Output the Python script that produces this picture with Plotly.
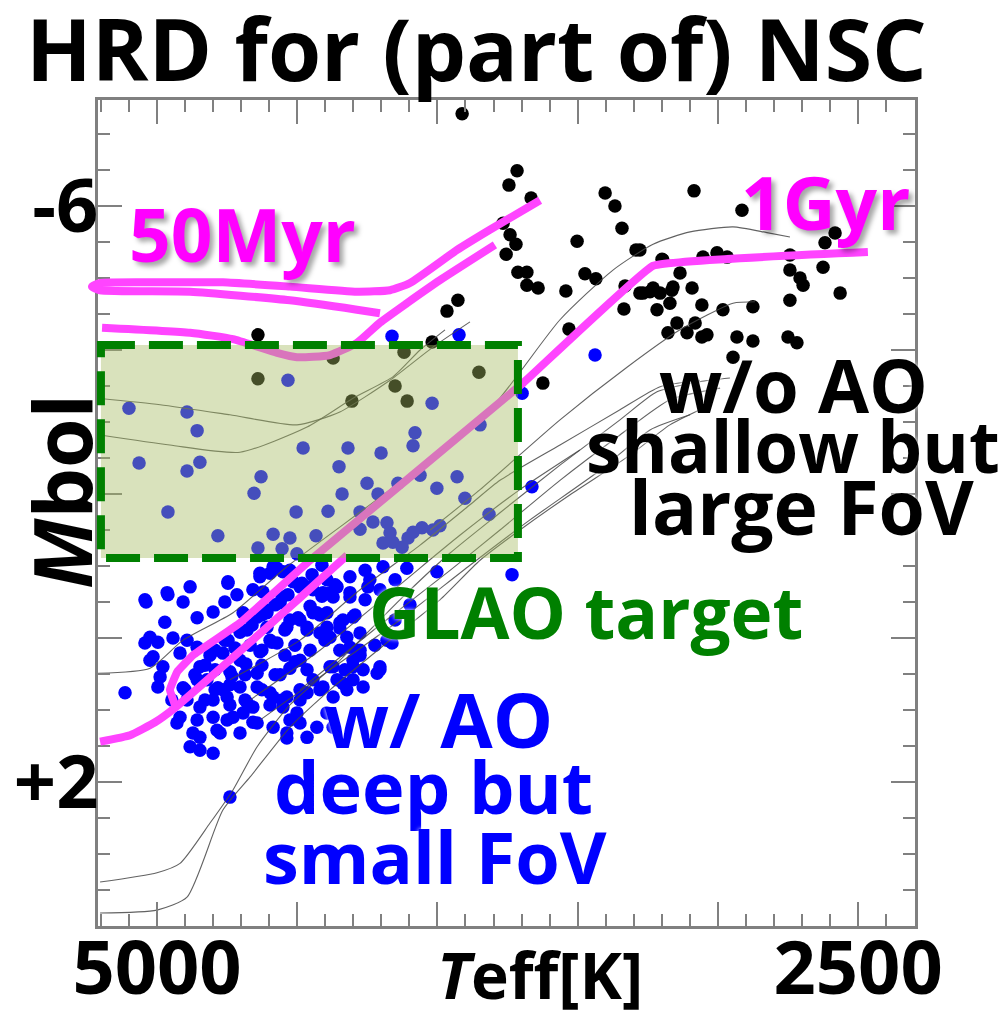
import plotly.graph_objects as go

# ---------------- data (Teff [K], Mbol) ----------------
black_teff = [3912,3716,3745,3666,3766,3741,3720,3755,3713,3681,3681,3641,3927,3966,4640,4019,4372,4119,4151,4108,
              4305,3852,4640,3402,3367,3342,3502,3292,3474,3435,3542,3531,3335,3331,3278,3231,3199,3164,3171,3135,
              3217,3146,3110,3085,2914,3053,3003,2967,2743,2582,2618,2625,2743,2707,2696,2564,2743,2875,2982,3057,
              3092,3160,3206,3242,3267,3196,3081,3057,2932,2875,2750,2718,3624,2946,3039,3178,3278]
black_mbol = [-7.28,-6.49,-6.29,-6.11,-5.76,-5.60,-5.47,-5.33,-5.08,-5.08,-4.90,-4.86,-4.69,-4.54,-4.21,-4.11,-3.89,-3.97,-3.50,-3.29,
              -3.29,-3.69,-3.60,-6.18,-6.00,-5.69,-5.51,-5.39,-5.06,-4.99,-4.82,-4.29,-4.57,-4.89,-4.79,-4.86,-5.26,-4.83,-4.65,-5.07,
              -4.56,-4.375,-4.24,-6.21,-5.94,-5.29,-5.35,-5.29,-5.32,-5.625,-5.49,-5.15,-5.11,-5.00,-4.90,-4.79,-4.69,-4.60,-4.56,-4.625,
              -4.86,-4.875,-4.79,-4.81,-4.79,-5.25,-4.375,-4.18,-4.18,-4.125,-4.18,-4.10,-3.54,-3.90,-4.21,-4.24,-5.39]

blue_pts = [
    (4533,-3.58),(5100,-3.19),(4893,-3.14),(4857,-2.88),(5064,-2.43),(4893,-2.32),(4847,-2.44),(4961,-1.75),(4783,-1.42),(4629,-2.24),
    (4654,-2.01),(4479,-2.64),(4319,-2.64),(4201,-2.57),(4351,-2.38),(4251,-2.15),(4340,-2.00),(4504,-1.75),(4390,-1.76),(4586,-1.44),
    (4526,-1.39),(4640,-1.25),(4554,-1.24),(4501,-1.17),(4433,-1.42),(4276,-1.75),(4212,-2.00),(4080,-2.85),(4087,-2.67),(4019,-3.26),
    (3848,-2.96),(3930,-2.24),(4002,-2.08),(3902,-1.94),(3816,-1.72),(4062,-2.26),(4141,-2.15),(4276,-1.51),(4230,-1.61),(4180,-1.60),
    (4169,-1.46),(4159,-1.33),(4126,-1.26),(4105,-1.39),(4087,-1.47),(4055,-1.53),(4016,-1.50),(3991,-1.56),(4194,-1.32),(4162,-4.19),
    (3923,-4.21),(3698,-3.40),(3663,-2.10),(3734,-0.88),(3438,-3.93),
    (5039,-0.50),(4961,-0.60),(4907,-0.50),(4882,-0.71),(4972,-0.22),(4857,-0.28),(4800,-0.36),(4747,-0.76),(4758,-0.50),(4715,-0.60),
    (4658,-0.67),(4693,-0.35),(4643,-0.29),(4608,-0.39),(4633,-0.90),(4572,-0.97),(5025,-0.01),(5043,0.07),(4997,0.06),(4943,0.00),
    (4893,0.03),(4857,0.13),(5014,0.26),(4979,0.40),(4989,0.54),(4997,0.68),(5114,0.76),(4918,0.21),(4847,0.40),(4857,0.58),
    (4907,0.69),(4822,0.58),(4793,0.44),(4740,0.47),(4704,0.31),(4765,0.21),(4679,-0.11),(4608,-0.15),(4561,-0.49),(4572,0.07),
    (4537,-0.15),(4490,-0.25),(4490,-0.71),(4444,-0.67),(4394,-0.81),(4372,-0.57),(4444,-0.35),(4394,-0.35),(4465,-0.11),(4419,-0.07),
    (4383,-0.01),(4348,-0.21),(4312,-0.57),(4301,-0.29),(4312,0.13),(4323,-0.01),(4348,0.17),(4372,0.40),(4358,0.58),(4301,0.40),
    (4301,0.58),(4444,0.58),(4490,0.72),(4537,0.82),(4586,0.82),(4643,0.68),(4704,0.68),(4750,0.82),(4800,0.86),(4847,0.96),
    (4857,1.14),(4918,1.10),(4800,1.10),(4750,1.14),(4693,1.04),(4658,0.96),(4643,1.18),(4551,0.96),(4501,1.04),(4490,1.18),
    (4586,1.24),(4537,1.32),(4372,0.82),(4394,1.04),(4430,1.24),(4465,1.38),(4372,1.24),(4323,0.72),(4704,1.32),(4775,1.32),
    (4847,1.38),(4847,1.56),(4882,1.51),(4800,1.60),(4786,1.28),(4740,2.21),(4658,1.17),(4537,1.39),(4554,0.86),(4526,1.14),
    (4465,0.76),(4408,0.68),(4337,0.63),(4265,0.68),(4215,0.49),(4205,0.40),(4287,0.17),(4383,0.40),(4465,0.44),(4597,0.76),
    (4679,0.90),(4729,1.10),(4765,0.72),(4893,0.86),(4929,1.18),(4872,1.32),(4947,0.86),(5025,0.31),
    (4633,-0.85),(4586,-0.99),(4526,-0.94),(4622,-0.64),(4554,-0.57),(4483,-0.76),(4383,-0.63),(4312,-0.63),(4248,-0.71),(4312,-0.85),
    (4258,-0.94),(4194,-0.99),(4109,-0.97),(4002,-0.92),(4430,-0.35),(4394,-0.15),(4337,-0.25),(4276,-0.07),(4180,0.03),(4276,0.17),
    (4301,0.31),(4265,0.44),(4205,0.44),(4643,0.49),(4608,-0.35),(4526,-0.25),(4465,-0.15),
    (4811,0.24),(4758,0.03),(4722,0.14),(4668,0.10),(4626,0.17),(4597,0.03),(4544,0.24),(4508,0.10),(4626,0.38),(4579,0.51),
    (4526,0.42),(4490,0.31),(4686,0.51),(4740,0.65),(4793,0.72),
    (5043,-0.53),(4964,-0.63),(4747,-0.78),(4597,-0.90),(4551,-0.92),(4515,-0.78),(4454,-0.71),(4408,-0.63),(4358,-0.71),(4241,-0.81),
    (4162,0.07),(4419,-0.32),
    (4900,0.72),(4865,0.51),(4829,0.38),(4793,0.17),(4747,0.03),(4704,-0.08),(4661,-0.18),(4626,-0.32),(4579,-0.46),(4533,-0.60),
    (4490,-0.74),(4447,-0.88),(4412,-1.01),(4829,0.86),(4783,0.69),(4733,0.53),(4683,0.36),(4633,0.19),(4590,0.06),(4544,-0.11),
    (4497,-0.28),(4454,-0.44),(4412,-0.58),(4365,-0.74),(4626,0.72),(4561,0.51),(4508,0.33),(4454,0.17),(4401,0.03),(4348,-0.14),
    (4294,-0.32),(4686,0.86),(4740,0.93),(4597,0.93),(4490,0.86),(4419,0.72),(4330,0.44),(4276,0.24),(4223,0.10),(4151,-0.25),
    (4098,-0.46),(4258,-0.53),(4205,-0.67),(4151,-0.81),
]
blue_teff = [p[0] for p in blue_pts]
blue_mbol = [p[1] for p in blue_pts]

# thin grey model isochrones
iso_grey = [
    [(5210,-3.33),(4989,-3.24),(4740,-3.10),(4501,-2.96),(4348,-3.14),(4169,-3.58),(4016,-4.04),(3884,-4.39)],
    [(5203,-2.82),(4954,-2.68),(4704,-2.58),(4465,-2.93),(4301,-3.33),(4158,-3.63),(4062,-4.00),(3973,-4.28)],
    [(5210,0.49),(5025,0.42),(4907,0.03),(4729,-0.35),(4537,-0.99),(4169,-2.06),(3813,-3.17),(3563,-4.42),
     (3374,-5.11),(3231,-5.47),(3099,-5.64),(2946,-5.71),(2825,-5.63),(2743,-5.57)],
    [(5203,3.39),(5000,3.26),(4918,3.13),(4811,2.57),(4729,2.11),(4643,1.51),(4526,0.93),(4348,0.31),(4134,-0.53),
     (3955,-1.18),(3777,-1.74),(3563,-2.40),(3349,-3.03),(3217,-3.42),(3064,-3.56),(2957,-3.61)],
    [(5203,3.82),(5000,3.78),(4893,3.60),(4765,2.39),(4668,1.93),(4526,1.24),(4383,0.72),(4169,0.03),(3991,-0.53),
     (3848,-1.08),(3706,-1.50),(3527,-1.99),(3313,-2.54),(3171,-2.96),(3064,-3.17)],
    [(4740,0.58),(4490,0.03),(4276,-0.67),(4062,-1.29),(3884,-1.85),(3777,-2.19),(3563,-2.68),(3349,-3.17),(3206,-3.49),(3064,-3.58)],
    [(4026,-1.50),(3848,-2.06),(3563,-3.03),(3324,-3.76),(3135,-4.28),(2946,-4.65),(2868,-4.67)],
    [(4668,0.86),(4419,0.17),(4134,-0.74),(3919,-1.43),(3706,-2.06),(3492,-2.61)],
    [(4490,0.72),(4205,-0.18),(3955,-0.94),(3777,-1.50),(3563,-2.19),(3349,-2.82),(3171,-3.31),(2992,-3.47)],
    [(4633,1.14),(4383,0.44),(4134,-0.25),(3884,-1.01),(3670,-1.64),(3420,-2.33),(3242,-2.89),(3099,-3.10)],
]

# hand-drawn highlighted isochrones (magenta)
myr50_a = [(3634,-6.08),(3813,-5.67),(3930,-5.39),(4098,-4.93),(4169,-4.83),(4287,-4.81),(4526,-4.88),(4765,-4.94),
           (5000,-4.94),(5203,-4.93),(5232,-4.88),(5203,-4.83),(4882,-4.81),(4526,-4.69),(4287,-4.56),(4205,-4.51)]
myr50_b = [(5196,-4.31),(4882,-4.24),(4729,-4.15),(4572,-3.96),(4501,-3.90),(4383,-3.93),(4287,-4.10),(4205,-4.38),
           (4109,-4.65),(3991,-4.97),(3795,-5.46)]
gyr1_a = [(5203,1.44),(5096,1.35),(5007,1.17),(4936,0.97),(4668,0.06),(4490,-0.56),(4322,-1.15)]
gyr1_b = [(4936,0.93),(4954,0.72),(4928,0.47),(4872,0.24),(4704,-0.21),(4454,-1.08),(3695,-3.54),(3231,-5.17),(2465,-5.36)]

# GLAO target box
glao_teff = [5200, 3713]
glao_mbol = [-4.07, -1.11]

x_ticks = [5000, 4500, 4000, 3500, 3000, 2500]
x_ticktext = ["5000", "", "", "", "", "2500"]
y_ticks = [-6, -4, -2, 0, 2]
y_ticktext = ["-6", "", "", "", "+2"]

# ---------------- figure ----------------
W, H = 1003, 1012
ML, MR, MT, MB = 70, 88, 100, 86
PW, PH = W - ML - MR, H - MT - MB
def px(x):
    return (x - ML) / PW
def py(y):
    return 1 - (y - MT) / PH

FONT = "Open Sans"
GREY = "#808080"
MAG = "#ff44ff"

fig = go.Figure()
fig.add_trace(go.Scatter(x=black_teff, y=black_mbol, mode="markers",
                         marker=dict(color="black", size=13.5, line=dict(width=0)),
                         xaxis="x", yaxis="y", hoverinfo="skip"))
fig.add_trace(go.Scatter(x=blue_teff, y=blue_mbol, mode="markers",
                         marker=dict(color="#0000ff", size=13.5, line=dict(width=0)),
                         xaxis="x", yaxis="y", hoverinfo="skip"))
for line in iso_grey:
    fig.add_trace(go.Scatter(x=[p[0] for p in line], y=[p[1] for p in line], mode="lines",
                             line=dict(color="rgba(70,70,70,0.85)", width=1.1, shape="spline", smoothing=0.6),
                             xaxis="x", yaxis="y", hoverinfo="skip"))
for line, sm in ((myr50_a, 0.5), (myr50_b, 0.5), (gyr1_a, 0.4), (gyr1_b, 0.2)):
    fig.add_trace(go.Scatter(x=[p[0] for p in line], y=[p[1] for p in line], mode="lines",
                             line=dict(color=MAG, width=8, shape="spline", smoothing=sm),
                             xaxis="x2", yaxis="y2", hoverinfo="skip"))

fig.add_shape(type="rect", xref="x2", yref="y2",
              x0=glao_teff[0], x1=glao_teff[1], y0=glao_mbol[0], y1=glao_mbol[1],
              fillcolor="rgba(165,185,95,0.42)",
              line=dict(color="#008000", width=8, dash="34px,14px"), layer="above")

x_left_main = 5559.9 - 3.566 * 98
x_left_ext = 5559.9 - 3.566 * ML
x_right = 5559.9 - 3.566 * 915
y_rng = [4.0, -7.472]

tickfont = dict(family=FONT, size=74, color="black", weight="bold")
fig.update_layout(
    width=W, height=H, margin=dict(l=ML, r=MR, t=MT, b=MB, pad=0),
    paper_bgcolor="white", plot_bgcolor="rgba(0,0,0,0)", showlegend=False,
    xaxis=dict(domain=[px(98), 1], range=[x_left_main, x_right], anchor="y", automargin=False,
               tickmode="array", tickvals=x_ticks, ticktext=x_ticktext, tickfont=tickfont,
               ticks="inside", ticklen=24, tickwidth=2, tickcolor=GREY,
               minor=dict(dtick=100, tick0=5000, ticks="inside", ticklen=12, tickwidth=2, tickcolor=GREY),
               showline=True, linecolor=GREY, linewidth=2.5, mirror="allticks",
               showgrid=False, zeroline=False, ticklabelstandoff=-24),
    yaxis=dict(domain=[0, 1], range=y_rng, anchor="x", automargin=False,
               tickmode="array", tickvals=y_ticks, ticktext=y_ticktext, tickfont=tickfont,
               ticks="inside", ticklen=24, tickwidth=2, tickcolor=GREY,
               minor=dict(dtick=0.5, tick0=0, ticks="inside", ticklen=12, tickwidth=2, tickcolor=GREY),
               showline=True, linecolor=GREY, linewidth=2.5, mirror="allticks",
               showgrid=False, zeroline=False, ticklabelstandoff=-18),
    xaxis2=dict(domain=[0, 1], range=[x_left_ext, x_right], anchor="y2", visible=False, automargin=False),
    yaxis2=dict(domain=[0, 1], range=y_rng, anchor="x2", visible=False, automargin=False),
)

def ann(text, x, y, size, color="black", angle=0, shadow=None):
    f = dict(family=FONT, size=size, color=color, weight="bold")
    if shadow:
        f["shadow"] = shadow
    fig.add_annotation(text=text, x=px(x), y=py(y), xref="paper", yref="paper",
                       xanchor="center", yanchor="middle", showarrow=False,
                       font=f, textangle=angle)

ann("HRD for (part of) NSC", 476, 47, 86)
ann("<i>M</i>bol", 60, 492, 80, angle=-90)
ann("<i>T</i>eff[K]", 540, 974, 64)
mag_shadow = "4px 4px 5px rgba(0,0,0,0.35)"
ann("50Myr", 242, 233, 73, color="#ff00ff", shadow=mag_shadow)
ann("1Gyr", 825, 201, 73, color="#ff00ff", shadow=mag_shadow)
glow = "0px 0px 4px white"
ann("w/o AO", 793, 385, 74, shadow=glow)
ann("shallow but", 793, 446, 71, shadow=glow)
ann("large FoV", 801, 506, 75, shadow=glow)
ann("GLAO target", 586, 611, 71, color="#008000", shadow=glow)
ann("w/ AO", 438, 718, 76, color="#0000ff", shadow=glow)
ann("deep but", 433, 786, 72, color="#0000ff", shadow=glow)
ann("small FoV", 435, 856, 72, color="#0000ff", shadow=glow)

fig.write_html("out.html", config={"displayModeBar": False},
               post_script="document.body.style.margin='0';")
